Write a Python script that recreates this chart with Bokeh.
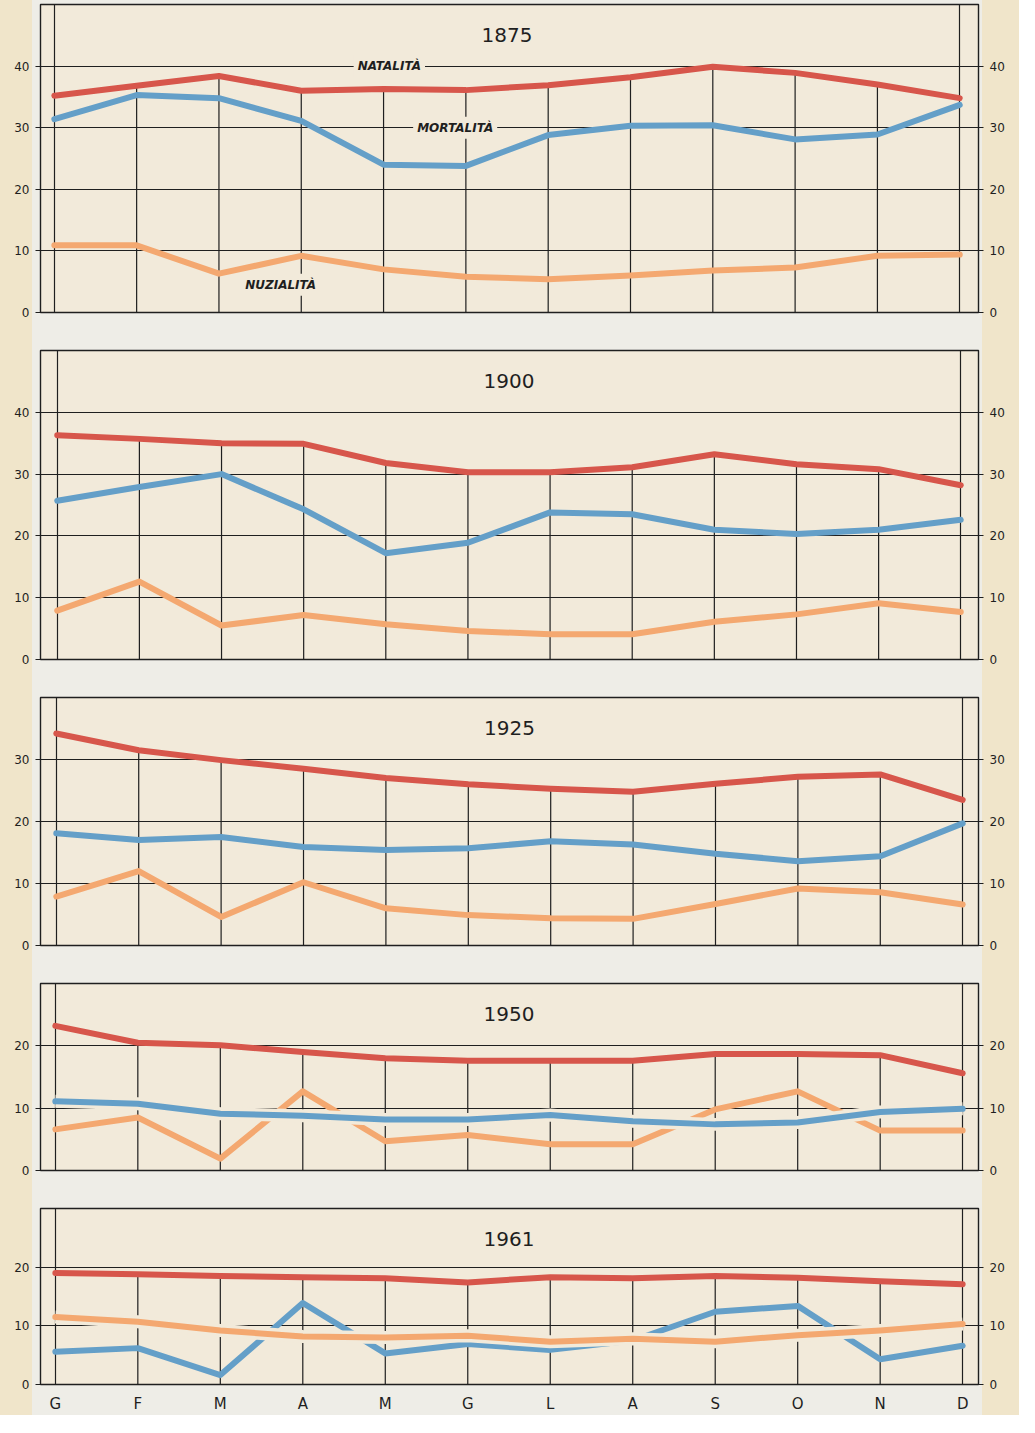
from bokeh.plotting import figure
from bokeh.layouts import column
from bokeh.models import FixedTicker, LinearAxis, Label, Range1d
from bokeh.embed import file_html
from bokeh.resources import INLINE

# ---------------- data ----------------
MONTHS = ["G", "F", "M", "A", "M", "G", "L", "A", "S", "O", "N", "D"]
YEARS = ["1875", "1900", "1925", "1950", "1961"]
SERIES_NAMES = ["NATALITÀ", "MORTALITÀ", "NUZIALITÀ"]

NAT_1875 = [35.2, 36.8, 38.4, 36.0, 36.3, 36.1, 36.9, 38.2, 39.9, 38.9, 37.0, 34.8]
MORT_1875 = [31.4, 35.3, 34.8, 31.1, 24.0, 23.8, 28.8, 30.3, 30.4, 28.1, 28.9, 33.7]
NUZ_1875 = [10.9, 10.9, 6.3, 9.2, 7.0, 5.8, 5.4, 6.0, 6.8, 7.3, 9.2, 9.4]

NAT_1900 = [36.3, 35.7, 35.0, 34.9, 31.8, 30.3, 30.3, 31.1, 33.2, 31.6, 30.8, 28.2]
MORT_1900 = [25.7, 27.9, 30.0, 24.3, 17.2, 18.9, 23.8, 23.5, 21.0, 20.3, 21.0, 22.6]
NUZ_1900 = [7.9, 12.6, 5.5, 7.2, 5.7, 4.6, 4.1, 4.1, 6.1, 7.3, 9.1, 7.7]

NAT_1925 = [34.2, 31.5, 29.9, 28.5, 27.0, 26.0, 25.3, 24.8, 26.1, 27.2, 27.6, 23.5]
MORT_1925 = [18.1, 17.0, 17.5, 15.9, 15.4, 15.7, 16.8, 16.3, 14.8, 13.6, 14.4, 19.7]
NUZ_1925 = [7.9, 12.0, 4.6, 10.2, 6.0, 4.9, 4.4, 4.3, 6.7, 9.2, 8.6, 6.6]

NAT_1950 = [23.2, 20.5, 20.1, 19.0, 18.0, 17.6, 17.6, 17.6, 18.7, 18.7, 18.5, 15.6]
MORT_1950 = [11.1, 10.7, 9.1, 8.8, 8.2, 8.2, 8.9, 7.9, 7.4, 7.7, 9.4, 9.9]
NUZ_1950 = [6.6, 8.5, 1.9, 12.7, 4.7, 5.7, 4.2, 4.2, 9.8, 12.7, 6.4, 6.4]

NAT_1961 = [19.0, 18.8, 18.5, 18.3, 18.1, 17.4, 18.3, 18.1, 18.5, 18.2, 17.6, 17.1]
MORT_1961 = [5.6, 6.2, 1.6, 13.9, 5.3, 6.9, 5.9, 7.5, 12.4, 13.4, 4.3, 6.6]
NUZ_1961 = [11.5, 10.7, 9.2, 8.2, 8.0, 8.3, 7.3, 7.8, 7.3, 8.4, 9.2, 10.3]

Y_MAX = [50, 50, 40, 30, 30]

# ---------------- style / layout ----------------
INTERIOR = "#f2eada"
BAND = "#eeede7"
STRIP = "#f0e5ca"
RED = "#d7564b"
BLUE = "#649fc8"
ORANGE = "#f4a870"
INK = "#1f1f1f"
FONT = "DejaVu Sans"
FIG_W = 1019

# per panel: border_left, frame_width, border_top, frame_height, border_bottom, x_start, x_end, top series
LAYOUT = [
    (40, 950, 4, 308, 19, -0.168, 11.228, None),
    (35, 952, 19, 309, 19, -0.204, 11.216, None),
    (33, 949, 19, 248, 19, -0.192, 11.192, None),
    (31, 949, 19, 187, 19, -0.180, 11.192, "mort"),
    (29, 949, 19, 186, 21, -0.180, 11.192, "nuz"),
]

DATA = [
    (NAT_1875, MORT_1875, NUZ_1875),
    (NAT_1900, MORT_1900, NUZ_1900),
    (NAT_1925, MORT_1925, NUZ_1925),
    (NAT_1950, MORT_1950, NUZ_1950),
    (NAT_1961, MORT_1961, NUZ_1961),
]

X = list(range(len(MONTHS)))
LW = 6
HALO = 13


def style_axis(ax, ticks):
    ax.ticker = FixedTicker(ticks=ticks)
    ax.axis_line_color = None
    ax.major_tick_out = 5
    ax.major_tick_in = 0
    ax.major_tick_line_color = INK
    ax.major_tick_line_width = 1.2
    ax.minor_tick_line_color = None
    ax.major_label_text_font = FONT
    ax.major_label_text_font_size = "12px"
    ax.major_label_text_color = INK
    ax.major_label_standoff = 6


figs = []
for i, (year, (nat, mort, nuz), ymax, lay) in enumerate(zip(YEARS, DATA, Y_MAX, LAYOUT)):
    bl, fw, bt, fh, bb, xs, xe, top = lay
    last = i == len(YEARS) - 1
    p = figure(
        width=FIG_W, height=bt + fh + bb,
        x_range=Range1d(xs, xe), y_range=Range1d(0, ymax),
        output_backend="svg", toolbar_location=None,
        min_border_left=bl, min_border_right=FIG_W - bl - fw,
        min_border_top=bt, min_border_bottom=bb,
        x_axis_location="below" if last else None,
        background_fill_color=INTERIOR, border_fill_color=None,
        outline_line_color=INK, outline_line_width=1.4,
    )
    ticks = list(range(0, ymax, 10))
    style_axis(p.yaxis[0], ticks)
    right = LinearAxis()
    style_axis(right, ticks)
    p.add_layout(right, "right")

    # grid: horizontal full, vertical full only at first/last month
    p.ygrid.ticker = FixedTicker(ticks=ticks[1:])
    p.ygrid.grid_line_color = INK
    p.ygrid.grid_line_width = 1.2
    p.xgrid.ticker = FixedTicker(ticks=[X[0], X[-1]])
    p.xgrid.grid_line_color = INK
    p.xgrid.grid_line_width = 1.2
    # inner month verticals run from 0 up to the birth-rate curve
    p.segment(x0=X[1:-1], y0=[0] * (len(X) - 2), x1=X[1:-1], y1=nat[1:-1],
              line_color=INK, line_width=1.2)

    kw = dict(line_width=LW, line_join="round", line_cap="round")
    if top == "mort":
        p.line(X, nuz, line_color=ORANGE, **kw)
        p.line(X, mort, line_color=INTERIOR, line_width=HALO, line_join="round", line_cap="butt")
        p.line(X, mort, line_color=BLUE, **kw)
    elif top == "nuz":
        p.line(X, mort, line_color=BLUE, **kw)
        p.line(X, nuz, line_color=INTERIOR, line_width=HALO, line_join="round", line_cap="butt")
        p.line(X, nuz, line_color=ORANGE, **kw)
    else:
        p.line(X, nuz, line_color=ORANGE, **kw)
        p.line(X, mort, line_color=BLUE, **kw)
    p.line(X, nat, line_color=RED, **kw)

    p.add_layout(Label(x=5.5, y=ymax, y_offset=-30, text=year, text_align="center",
                       text_baseline="middle", text_font=FONT, text_font_size="20px",
                       text_color=INK))

    if i == 0:
        for name, (lx, ly) in zip(SERIES_NAMES, [(4.07, 40), (4.87, 30), (2.75, 4.5)]):
            p.add_layout(Label(x=lx, y=ly, text=name, text_align="center",
                               text_baseline="middle", text_font=FONT,
                               text_font_size="12px", text_font_style="bold italic",
                               text_color=INK, background_fill_color=INTERIOR,
                               padding=4))

    if last:
        xa = p.xaxis[0]
        xa.ticker = FixedTicker(ticks=X)
        xa.major_label_overrides = {x: m for x, m in zip(X, MONTHS)}
        xa.axis_line_color = None
        xa.major_tick_line_color = None
        xa.minor_tick_line_color = None
        xa.major_label_text_font = FONT
        xa.major_label_text_font_size = "15px"
        xa.major_label_text_color = INK
        xa.major_label_standoff = 4

    figs.append(p)

layout = column(
    *figs, spacing=0,
    styles={"background": f"linear-gradient(to right, {STRIP} 0px, {STRIP} 32px, {BAND} 32px, "
                          f"{BAND} 982px, {STRIP} 982px, {STRIP} 100%)"},
)

open("out.html", "w").write(file_html(layout, INLINE))
